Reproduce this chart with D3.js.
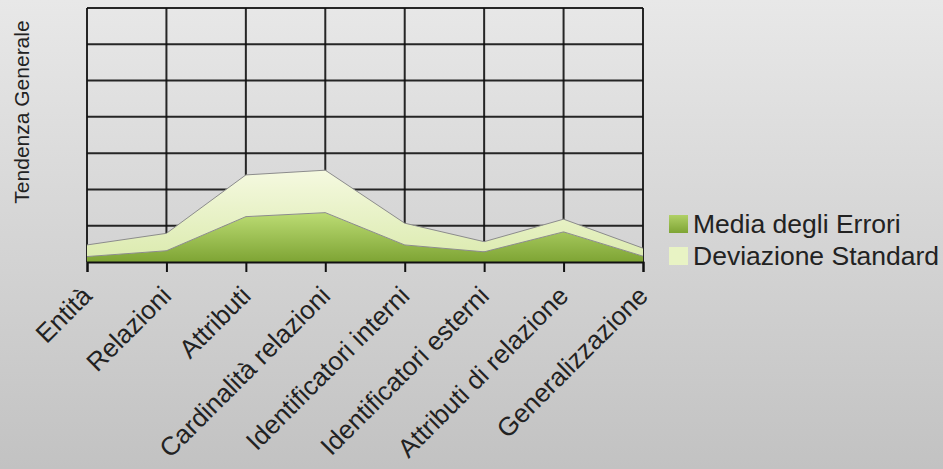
<!DOCTYPE html>
<html><head><meta charset="utf-8">
<script src="https://cdn.jsdelivr.net/npm/d3@7"></script>
<style>
html,body{margin:0;padding:0;}
body{width:943px;height:469px;overflow:hidden;}
text{font-family:"Liberation Sans",Arial,sans-serif;fill:#222;}
</style></head>
<body>
<svg id="c" width="943" height="469"></svg>
<script>
const categories = ["Entità","Relazioni","Attributi","Cardinalità relazioni","Identificatori interni","Identificatori esterni","Attributi di relazione","Generalizzazione"];
const mediaErrori = [0.15,0.31,1.25,1.36,0.47,0.28,0.83,0.16];
const deviazioneStandard = [0.32,0.48,1.15,1.17,0.60,0.28,0.35,0.22];
const seriesNames = ["Media degli Errori","Deviazione Standard"];
const yTicks = [0,1,2,3,4,5,6,7];
const yTitle = "Tendenza Generale";

const svg = d3.select("#c");
const W = 943, H = 469;
const m = {l:87, r:943-643, t:8, b:469-262};
const defs = svg.append("defs");
const bg = defs.append("linearGradient").attr("id","bg").attr("x1",0).attr("y1",0).attr("x2",0).attr("y2",1);
bg.append("stop").attr("offset","0%").attr("stop-color","#e8e8e8");
bg.append("stop").attr("offset","100%").attr("stop-color","#c2c2c2");
const g1 = defs.append("linearGradient").attr("id","g1").attr("x1",0).attr("y1",0).attr("x2",0).attr("y2",1);
g1.append("stop").attr("offset","0%").attr("stop-color","#bcdc74");
g1.append("stop").attr("offset","100%").attr("stop-color","#7ea434");
const g2 = defs.append("linearGradient").attr("id","g2").attr("x1",0).attr("y1",0).attr("x2",0).attr("y2",1);
g2.append("stop").attr("offset","0%").attr("stop-color","#f5f9e0");
g2.append("stop").attr("offset","100%").attr("stop-color","#dcebb0");
const gs1 = defs.append("linearGradient").attr("id","gs1").attr("x1",0).attr("y1",0).attr("x2",0).attr("y2",1);
gs1.append("stop").attr("offset","0%").attr("stop-color","#b0d066");
gs1.append("stop").attr("offset","100%").attr("stop-color","#7ea434");

svg.append("rect").attr("width",W).attr("height",H).attr("fill","url(#bg)");

const x = d3.scalePoint().domain(categories).range([m.l, W-m.r]);
const y = d3.scaleLinear().domain([0,7]).range([H-m.b, m.t]);

// grid
const grid = svg.append("g");
grid.selectAll("line.h").data(yTicks).join("line")
  .attr("x1",m.l).attr("x2",W-m.r).attr("y1",d=>y(d)).attr("y2",d=>y(d))
  .attr("stroke","#111").attr("stroke-width",2).attr("stroke-opacity",0.9);
grid.selectAll("line.v").data(categories).join("line")
  .attr("x1",d=>x(d)).attr("x2",d=>x(d)).attr("y1",m.t).attr("y2",H-m.b)
  .attr("stroke","#111").attr("stroke-width",2).attr("stroke-opacity",0.9);

// stacked areas
const rows = categories.map((c,i)=>({cat:c, a:mediaErrori[i], b:deviazioneStandard[i]}));
const stack = d3.stack().keys(["a","b"])(rows);
const area = d3.area().x(d=>x(d.data.cat)).y0(d=>y(d[0])).y1(d=>y(d[1]));
const line = d3.line().x(d=>x(d.data.cat)).y(d=>y(d[1]));
const fills = ["url(#g1)","url(#g2)"];
svg.selectAll("path.area").data(stack).join("path")
  .attr("d",area).attr("fill",(d,i)=>fills[i]);
svg.selectAll("path.top").data(stack).join("path")
  .attr("d",line).attr("fill","none").attr("stroke","#8c8c8c").attr("stroke-width",1);

// x axis
const xAxis = d3.axisBottom(x).tickSize(10).tickFormat("");
const ax = svg.append("g").attr("transform",`translate(0,${H-m.b})`).call(xAxis);
ax.select(".domain").attr("stroke","#111").attr("stroke-width",2);
ax.selectAll(".tick line").attr("stroke","#111").attr("stroke-width",2);
svg.append("g").selectAll("text").data(categories).join("text")
  .attr("transform",d=>`translate(${x(d)},${H-m.b+29}) rotate(-45)`)
  .attr("text-anchor","end").attr("dy","0.35em")
  .style("font-size","26px").text(d=>d);

// y title
svg.append("text").attr("transform","translate(29,112) rotate(-90)")
  .attr("text-anchor","middle").style("font-size","21px").text(yTitle);

// legend
const lg = svg.append("g");
const swFills = ["url(#gs1)","#e8f3c4"];
seriesNames.forEach((n,i)=>{
  const yy = 215 + i*32;
  lg.append("rect").attr("x",669).attr("y",yy).attr("width",19).attr("height",18).attr("fill",swFills[i]);
  lg.append("text").attr("x",693).attr("y",yy+18).style("font-size","26.5px").text(n);
});
</script>
</body></html>
